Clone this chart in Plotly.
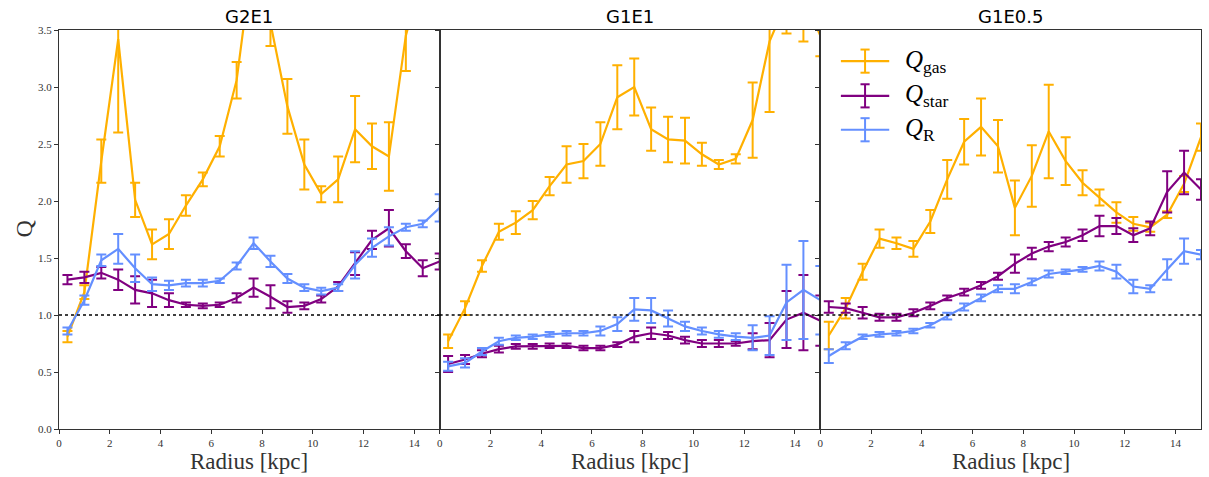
import plotly.graph_objects as go

# Radial bin centres [kpc]
radius = [0.333, 1.0, 1.667, 2.333, 3.0, 3.667, 4.333, 5.0, 5.667, 6.333, 7.0, 7.667,
          8.333, 9.0, 9.667, 10.333, 11.0, 11.667, 12.333, 13.0, 13.667, 14.333, 15.0]

# G2E1
g2e1_qgas = [0.81, 1.20, 2.35, 3.42, 2.01, 1.62, 1.71, 1.96, 2.19, 2.48, 3.06, 4.20,
             3.56, 2.83, 2.32, 2.06, 2.19, 2.63, 2.48, 2.39, 3.45, 4.00, 4.30]
g2e1_qgas_err = [0.05, 0.06, 0.19, 0.82, 0.15, 0.13, 0.13, 0.09, 0.06, 0.09, 0.16, 0.40,
                 0.20, 0.24, 0.22, 0.07, 0.20, 0.29, 0.20, 0.30, 0.31, 0.40, 0.40]
g2e1_qstar = [1.31, 1.33, 1.37, 1.31, 1.22, 1.19, 1.13, 1.09, 1.08, 1.09, 1.15, 1.24,
              1.16, 1.07, 1.08, 1.14, 1.25, 1.45, 1.66, 1.76, 1.56, 1.41, 1.47]
g2e1_qstar_err = [0.04, 0.05, 0.05, 0.09, 0.12, 0.12, 0.06, 0.02, 0.02, 0.02, 0.04, 0.08,
                  0.10, 0.05, 0.03, 0.03, 0.04, 0.10, 0.08, 0.16, 0.06, 0.07, 0.07]
g2e1_qr = [0.86, 1.13, 1.48, 1.58, 1.41, 1.27, 1.26, 1.28, 1.28, 1.30, 1.43, 1.63,
           1.47, 1.32, 1.24, 1.21, 1.24, 1.44, 1.59, 1.69, 1.77, 1.80, 1.94]
g2e1_qr_err = [0.03, 0.04, 0.05, 0.13, 0.12, 0.06, 0.04, 0.03, 0.03, 0.02, 0.03, 0.05,
               0.05, 0.04, 0.03, 0.03, 0.03, 0.12, 0.08, 0.08, 0.03, 0.03, 0.12]

# G1E1
g1e1_qgas = [0.77, 1.06, 1.43, 1.73, 1.81, 1.92, 2.13, 2.32, 2.35, 2.50, 2.91, 3.00,
             2.63, 2.54, 2.53, 2.41, 2.32, 2.37, 2.71, 3.40, 3.75, 3.80, 3.45]
g1e1_qgas_err = [0.06, 0.06, 0.05, 0.07, 0.10, 0.08, 0.08, 0.16, 0.15, 0.19, 0.28, 0.25,
                 0.19, 0.20, 0.20, 0.10, 0.04, 0.04, 0.33, 0.62, 0.28, 0.40, 0.18]
g1e1_qstar = [0.57, 0.61, 0.66, 0.70, 0.725, 0.725, 0.73, 0.73, 0.71, 0.71, 0.74, 0.81,
              0.84, 0.82, 0.78, 0.75, 0.75, 0.75, 0.77, 0.78, 0.96, 1.02, 0.95]
g1e1_qstar_err = [0.07, 0.04, 0.03, 0.03, 0.02, 0.02, 0.02, 0.02, 0.02, 0.02, 0.02, 0.05,
                  0.05, 0.03, 0.03, 0.03, 0.03, 0.02, 0.07, 0.15, 0.25, 0.33, 0.22]
g1e1_qr = [0.55, 0.58, 0.68, 0.77, 0.80, 0.81, 0.83, 0.84, 0.84, 0.86, 0.92, 1.05,
           1.04, 0.97, 0.90, 0.86, 0.83, 0.81, 0.80, 0.82, 1.11, 1.22, 1.13]
g1e1_qr_err = [0.04, 0.04, 0.03, 0.03, 0.02, 0.02, 0.02, 0.02, 0.02, 0.04, 0.06, 0.10,
               0.11, 0.07, 0.04, 0.03, 0.03, 0.03, 0.11, 0.17, 0.33, 0.43, 0.30]

# G1E0.5
g1e05_qgas = [0.82, 1.06, 1.38, 1.67, 1.63, 1.58, 1.82, 2.19, 2.52, 2.65, 2.48, 1.94,
              2.22, 2.61, 2.35, 2.16, 2.03, 1.90, 1.80, 1.77, 1.88, 2.15, 2.56]
g1e05_qgas_err = [0.12, 0.09, 0.07, 0.08, 0.05, 0.07, 0.10, 0.17, 0.20, 0.25, 0.23, 0.24,
                  0.27, 0.41, 0.21, 0.11, 0.07, 0.09, 0.06, 0.04, 0.03, 0.07, 0.12]
g1e05_qstar = [1.07, 1.06, 1.02, 0.98, 0.98, 1.02, 1.08, 1.15, 1.20, 1.26, 1.34, 1.45,
               1.54, 1.60, 1.64, 1.70, 1.78, 1.78, 1.70, 1.76, 2.08, 2.25, 2.10]
g1e05_qstar_err = [0.05, 0.04, 0.05, 0.03, 0.03, 0.03, 0.03, 0.02, 0.03, 0.03, 0.03, 0.08,
                   0.05, 0.04, 0.04, 0.05, 0.09, 0.07, 0.06, 0.06, 0.18, 0.19, 0.09]
g1e05_qr = [0.64, 0.73, 0.81, 0.83, 0.84, 0.86, 0.91, 0.99, 1.07, 1.15, 1.23, 1.23,
            1.29, 1.36, 1.38, 1.40, 1.43, 1.38, 1.25, 1.23, 1.40, 1.56, 1.53]
g1e05_qr_err = [0.06, 0.03, 0.02, 0.02, 0.02, 0.02, 0.02, 0.03, 0.03, 0.03, 0.03, 0.04,
                0.03, 0.03, 0.02, 0.02, 0.04, 0.06, 0.06, 0.03, 0.09, 0.11, 0.04]

panel_titles = ["G2E1", "G1E1", "G1E0.5"]
x_ticks = [0, 2, 4, 6, 8, 10, 12, 14]
y_ticks = [0.0, 0.5, 1.0, 1.5, 2.0, 2.5, 3.0, 3.5]
y_ticktext = ["0.0", "0.5", "1.0", "1.5", "2.0", "2.5", "3.0", "3.5"]

series_names = ["<i>Q</i><sub>gas</sub>", "<i>Q</i><sub>star</sub>", "<i>Q</i><sub>R</sub>"]
series_colors = ["#FFB000", "#800080", "#648FFF"]

panels = [
    [(g2e1_qgas, g2e1_qgas_err), (g2e1_qstar, g2e1_qstar_err), (g2e1_qr, g2e1_qr_err)],
    [(g1e1_qgas, g1e1_qgas_err), (g1e1_qstar, g1e1_qstar_err), (g1e1_qr, g1e1_qr_err)],
    [(g1e05_qgas, g1e05_qgas_err), (g1e05_qstar, g1e05_qstar_err), (g1e05_qr, g1e05_qr_err)],
]

SERIF = "Liberation Serif, DejaVu Serif, serif"
SANS = "DejaVu Sans, sans-serif"
AXC = "#333333"

fig = go.Figure()

for p, series in enumerate(panels):
    sfx = "" if p == 0 else str(p + 1)
    for (vals, errs), name, col in zip(series, series_names, series_colors):
        fig.add_trace(go.Scatter(
            x=radius, y=vals, mode="lines", name=name,
            xaxis="x" + sfx, yaxis="y" + sfx,
            line=dict(color=col, width=2.2),
            error_y=dict(type="data", array=errs, visible=True,
                         color=col, thickness=2, width=5),
            showlegend=False,
        ))

layout = dict(
    width=1209, height=477,
    margin=dict(l=59, r=8, t=30, b=48),
    paper_bgcolor="white", plot_bgcolor="white",
    showlegend=False,
)

shapes = []
annotations = []
for p in range(3):
    sfx = "" if p == 0 else str(p + 1)
    xa = "xaxis" + sfx
    ya = "yaxis" + sfx
    layout[xa] = dict(
        domain=[p / 3, (p + 1) / 3], range=[0, 15], anchor="y" + sfx,
        tickvals=x_ticks, ticks="outside", ticklen=4, tickwidth=1, tickcolor=AXC,
        showline=True, mirror=True, linecolor=AXC, linewidth=1,
        showgrid=False, zeroline=False,
        tickfont=dict(family=SERIF, size=11, color=AXC),
    )
    layout[ya] = dict(
        domain=[0, 1], range=[0, 3.5], anchor="x" + sfx,
        tickvals=y_ticks, ticktext=y_ticktext, ticks="outside", ticklen=4,
        tickwidth=1, tickcolor=AXC,
        showline=True, mirror=True, linecolor=AXC, linewidth=1,
        showgrid=False, zeroline=False, showticklabels=(p == 0),
        tickfont=dict(family=SERIF, size=11, color=AXC),
    )
    # Q = 1 marginal stability line
    shapes.append(dict(type="line", xref="x" + sfx + " domain", x0=0, x1=1,
                       yref="y" + sfx, y0=1, y1=1,
                       line=dict(color="black", width=1.5, dash="dot")))
    # panel title
    annotations.append(dict(text=panel_titles[p], xref="x" + sfx + " domain", x=0.5,
                            yref="y" + sfx + " domain", y=1, yanchor="bottom",
                            xanchor="center", yshift=1, showarrow=False,
                            font=dict(family=SANS, size=18, color="black")))
    # x-axis label
    annotations.append(dict(text="Radius [kpc]", xref="x" + sfx + " domain", x=0.5,
                            yref="y" + sfx + " domain", y=0, yanchor="top",
                            xanchor="center", yshift=-18, showarrow=False,
                            font=dict(family=SERIF, size=23, color=AXC)))

# y-axis label
annotations.append(dict(text="Q", xref="paper", x=0, xanchor="center", xshift=-36,
                        yref="paper", y=0.5, yanchor="middle", textangle=-90,
                        showarrow=False, font=dict(family=SERIF, size=24, color=AXC)))

# legend with error-bar glyphs, upper left of the last panel
leg_y = [0.922, 0.835, 0.750]
for name, col, yy in zip(series_names, series_colors, leg_y):
    xr, yr = "x3 domain", "y3 domain"
    shapes.append(dict(type="line", xref=xr, yref=yr, x0=0.054, x1=0.181, y0=yy, y1=yy,
                       line=dict(color=col, width=2.2)))
    shapes.append(dict(type="line", xref=xr, yref=yr, x0=0.1175, x1=0.1175,
                       y0=yy - 0.029, y1=yy + 0.029, line=dict(color=col, width=2)))
    for dy in (-0.029, 0.029):
        shapes.append(dict(type="line", xref=xr, yref=yr, x0=0.1055, x1=0.1295,
                           y0=yy + dy, y1=yy + dy, line=dict(color=col, width=2)))
    annotations.append(dict(text=name, xref=xr, yref=yr, x=0.218, y=yy,
                            xanchor="left", yanchor="middle", showarrow=False,
                            font=dict(family=SERIF, size=25, color="black")))

layout["shapes"] = shapes
layout["annotations"] = annotations
fig.update_layout(**layout)

fig.write_html("out.html")
